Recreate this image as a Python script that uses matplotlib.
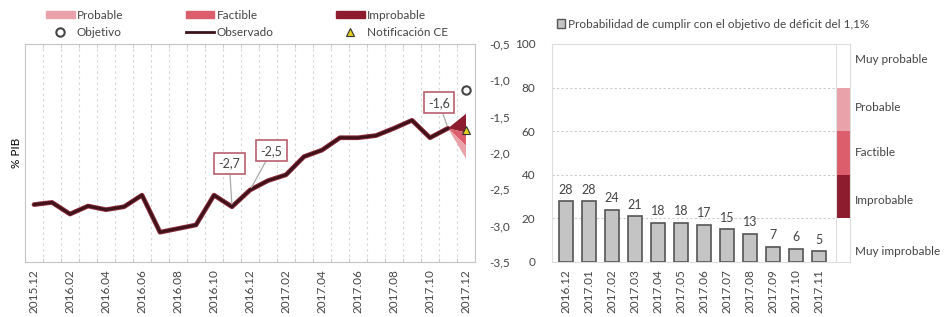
import numpy as np
import matplotlib
matplotlib.use("Agg")
import matplotlib.pyplot as plt
from matplotlib.patches import Patch
from matplotlib.lines import Line2D

plt.rcParams['font.family'] = ['Lato', 'DejaVu Sans']
plt.rcParams['font.size'] = 8.5
plt.rcParams['text.color'] = '#444444'

# datos panel izquierdo (% PIB)
meses = ['2015.12', '2016.01', '2016.02', '2016.03', '2016.04', '2016.05', '2016.06',
         '2016.07', '2016.08', '2016.09', '2016.10', '2016.11', '2016.12', '2017.01',
         '2017.02', '2017.03', '2017.04', '2017.05', '2017.06', '2017.07', '2017.08',
         '2017.09', '2017.10', '2017.11', '2017.12']
observado = [-2.71, -2.68, -2.84, -2.73, -2.78, -2.74, -2.58, -3.09, -3.04, -2.99,
             -2.58, -2.74, -2.51, -2.38, -2.30, -2.05, -1.96, -1.79, -1.79, -1.76,
             -1.66, -1.55, -1.79, -1.66]
objetivo = -1.13
notificacion_ce = -1.69
# limites del abanico en 2017.12 (improbable, factible, probable)
abanico = [-1.46, -1.72, -1.90, -2.08]
etiquetas = {'2016.11': '-2,7', '2016.12': '-2,5', '2017.11': '-1,6'}

# datos panel derecho
prob_meses = ['2016.12', '2017.01', '2017.02', '2017.03', '2017.04', '2017.05',
              '2017.06', '2017.07', '2017.08', '2017.09', '2017.10', '2017.11']
prob_valores = [28, 28, 24, 21, 18, 18, 17, 15, 13, 7, 6, 5]
bandas_lim = [0, 20, 40, 60, 80, 100]
bandas_nombres = ['Muy improbable', 'Improbable', 'Factible', 'Probable', 'Muy probable']

c_prob = '#e9a2aa'
c_fact = '#dc5d6c'
c_improb = '#8d1c2e'
c_linea = '#3d1319'

fig = plt.figure(figsize=(9.46, 3.17), dpi=100)

# ---------- panel izquierdo
ax = fig.add_axes([25 / 946, 55 / 317, 450 / 946, 218 / 317])
x = np.arange(len(observado))
ax.plot(x, observado, color='#8c2a3a', lw=3.4, solid_capstyle='round', zorder=3)
ax.plot(x, observado, color=c_linea, lw=2.0, solid_capstyle='round', zorder=4)

x0, x1 = len(observado) - 1, len(observado)
y0 = observado[-1]
for (hi, lo), c in zip(zip(abanico[:-1], abanico[1:]), [c_improb, c_fact, c_prob]):
    ax.fill([x0, x1, x1], [y0, hi, lo], color=c, lw=0, zorder=2)
ax.plot([x1], [objetivo], 'o', ms=6, mfc='white', mec='#444444', mew=1.5, zorder=5)
ax.plot([x1], [notificacion_ce], '^', ms=6, mfc='#e3cf1e', mec='#333333', mew=0.8, zorder=6)

offsets = {'-2,7': (-0.15, 0.60), '-2,5': (1.2, 0.54), '-1,6': (-0.5, 0.35)}
for mes, txt in etiquetas.items():
    i = meses.index(mes)
    dx, dy = offsets[txt]
    ax.annotate(txt, xy=(i, observado[i]), xytext=(i + dx, observado[i] + dy),
                ha='center', va='center', fontsize=9, zorder=7,
                bbox=dict(boxstyle='square,pad=0.35', fc='white', ec='#b9606c', lw=1.2),
                arrowprops=dict(arrowstyle='-', color='#aaaaaa', lw=0.9, shrinkA=0, shrinkB=2))

ax.set_xlim(-0.5, len(meses) - 0.5)
ax.set_ylim(-3.5, -0.5)
ax.set_xticks(np.arange(0, len(meses), 2))
ax.set_xticklabels(meses[::2], rotation=90)
ax.set_xticks(np.arange(0.5, len(meses) - 1, 1), minor=True)
ax.set_yticks(np.arange(-3.5, -0.49, 0.5))
ax.set_yticklabels([f'{v:.1f}'.replace('.', ',') for v in np.arange(-3.5, -0.49, 0.5)])
ax.tick_params(axis='x', which='major', length=0, pad=5, labelcolor='#444444')
ax.tick_params(axis='x', which='minor', direction='in', length=3, color='#c8c8c8',
               top=True, bottom=True)
ax.tick_params(axis='y', left=False, labelleft=False, right=True, labelright=True,
               length=0, pad=10, labelcolor='#444444')
ax.grid(True, which='minor', axis='x', color='#d4d4d4', ls=(0, (2, 3)), lw=0.8)
for s in ax.spines.values():
    s.set_color('#c4c4c4')
ax.set_ylabel('% PIB', labelpad=2)

ley = [Patch(color=c_prob, label='Probable'),
       Line2D([], [], ls='none', marker='o', ms=6, mfc='white', mec='#444444', mew=1.5,
              label='Objetivo'),
       Patch(color=c_fact, label='Factible'),
       Line2D([], [], color=c_linea, lw=2, label='Observado'),
       Patch(color=c_improb, label='Improbable'),
       Line2D([], [], ls='none', marker='^', ms=6, mfc='#e3cf1e', mec='#333333', mew=0.8,
              label='Notificación CE')]
fig.legend(handles=ley, ncol=3, loc='upper left', bbox_to_anchor=(38 / 946, 0.995),
           frameon=False, handlelength=2.4, handleheight=0.6, handletextpad=0.2,
           columnspacing=5.3, labelspacing=0.5, borderaxespad=0.3, fontsize=8.5)

# ---------- panel derecho
ax2 = fig.add_axes([552 / 946, 55 / 317, 298 / 946, 218 / 317])
xb = np.arange(len(prob_meses))
ax2.bar(xb, prob_valores, width=0.6, color='#c4c4c4', edgecolor='#555555', lw=1.2, zorder=3)
for xi, v in zip(xb, prob_valores):
    ax2.text(xi, v + 2.5, str(v), ha='center', va='bottom', fontsize=9)

xs = len(prob_meses) + 0.05
colores_banda = ['white', c_improb, c_fact, c_prob, 'white']
for lo, hi, c in zip(bandas_lim[:-1], bandas_lim[1:], colores_banda):
    ax2.bar(xs, hi - lo, bottom=lo, width=0.6, color=c, lw=0, zorder=4)
ax2.bar(xs, 100, width=0.6, fill=False, edgecolor='#dddddd', lw=0.8, zorder=5)
pos_nombres = [5, 28, 50, 71, 93]
for nombre, yv in zip(bandas_nombres, pos_nombres):
    ax2.text(1.017, yv, nombre, transform=ax2.get_yaxis_transform(), ha='left',
             va='center', fontsize=8.5, clip_on=False)

ax2.set_xlim(-0.6, xs + 0.3)
ax2.set_ylim(0, 100)
ax2.set_yticks(np.arange(0, 101, 20))
ax2.set_xticks(xb)
ax2.set_xticklabels(prob_meses, rotation=90)
ax2.tick_params(length=0, labelcolor='#444444')
ax2.tick_params(axis='y', pad=12)
ax2.tick_params(axis='x', pad=5)
ax2.grid(True, axis='y', color='#cccccc', ls=(0, (2, 2)), lw=0.8, zorder=0)
for s in ax2.spines.values():
    s.set_color('#dddddd')

fig.legend(handles=[Patch(fc='#c4c4c4', ec='#555555', lw=1.0,
                          label='Probabilidad de cumplir con el objetivo de déficit del 1,1%')],
           loc='upper center', bbox_to_anchor=(713 / 946, 0.975), frameon=False,
           handlelength=0.7, handleheight=0.7, handletextpad=0.2, fontsize=8.5)

fig.savefig('out.png', dpi=100)
